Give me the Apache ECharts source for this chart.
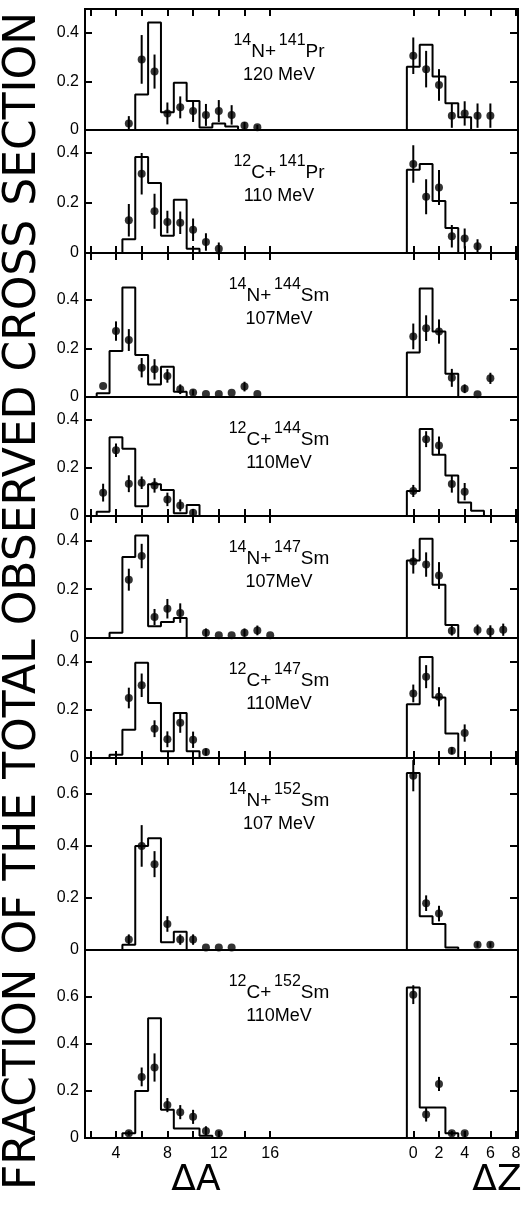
<!DOCTYPE html>
<html><head><meta charset="utf-8">
<script src="https://cdn.jsdelivr.net/npm/echarts@6/dist/echarts.min.js"></script>
<style>html,body{margin:0;padding:0;background:#fff}#c{width:522px;height:1205px}</style>
</head><body><div id="c"></div>
<script>
// ---------- DATA ----------
// histogram bins: [ΔA or ΔZ, fraction]; points: [ΔA or ΔZ, fraction, error]
const histA_N14_Pr141 = [[6,0.146],[7,0.442],[8,0.073],[9,0.194],[10,0.119],[11,0.010],[12,0.027],[13,0.014]];
const ptsA_N14_Pr141  = [[5,0.027,0.03],[6,0.29,0.1],[7,0.24,0.07],[8,0.068,0.045],[9,0.093,0.045],[10,0.078,0.045],[11,0.062,0.045],[12,0.078,0.045],[13,0.062,0.04],[14,0.018,0.015],[15,0.011,0.01]];
const histZ_N14_Pr141 = [[0,0.26],[1,0.35],[2,0.22],[3,0.11],[4,0.052]];
const ptsZ_N14_Pr141  = [[0,0.305,0.075],[1,0.25,0.075],[2,0.185,0.065],[3,0.059,0.05],[4,0.068,0.05],[5,0.059,0.05],[6,0.059,0.05]];

const histA_C12_Pr141 = [[5,0.055],[6,0.384],[7,0.28],[8,0.069],[9,0.213],[10,0.017]];
const ptsA_C12_Pr141  = [[5,0.131,0.065],[6,0.317,0.083],[7,0.167,0.07],[8,0.124,0.045],[9,0.121,0.045],[10,0.093,0.045],[11,0.044,0.035],[12,0.017,0.025]];
const histZ_C12_Pr141 = [[0,0.333],[1,0.356],[2,0.208],[3,0.1]];
const ptsZ_C12_Pr141  = [[0,0.356,0.075],[1,0.225,0.07],[2,0.262,0.07],[3,0.067,0.045],[4,0.058,0.04],[5,0.027,0.028]];

const histA_N14_Sm144 = [[3,0.015],[4,0.19],[5,0.452],[6,0.173],[7,0.052],[8,0.125],[9,0.022]];
const ptsA_N14_Sm144  = [[3,0.045,0],[4,0.272,0.04],[5,0.235,0.045],[6,0.121,0.04],[7,0.114,0.042],[8,0.087,0.028],[9,0.032,0.02],[10,0.019,0.012],[11,0.012,0],[12,0.012,0],[13,0.018,0],[14,0.043,0.02],[15,0.012,0]];
const histZ_N14_Sm144 = [[0,0.184],[1,0.448],[2,0.27],[3,0.096]];
const ptsZ_N14_Sm144  = [[0,0.25,0.053],[1,0.284,0.053],[2,0.27,0.05],[3,0.079,0.037],[4,0.034,0.018],[5,0.011,0],[6,0.077,0.023]];

const histA_C12_Sm144 = [[3,0.018],[4,0.327],[5,0.279],[6,0.04],[7,0.132],[8,0.108],[9,0.011],[10,0.046]];
const ptsA_C12_Sm144  = [[3,0.097,0.037],[4,0.273,0.028],[5,0.134,0.035],[6,0.138,0.026],[7,0.127,0.03],[8,0.069,0.028],[9,0.044,0.025],[10,0.014,0.01]];
const histZ_C12_Sm144 = [[0,0.104],[1,0.361],[2,0.254],[3,0.168],[4,0.056],[5,0.022]];
const ptsZ_C12_Sm144  = [[0,0.104,0.025],[1,0.319,0.033],[2,0.293,0.037],[3,0.133,0.036],[4,0.101,0.036]];

const histA_N14_Sm147 = [[4,0.022],[5,0.332],[6,0.42],[7,0.048],[8,0.066],[9,0.082]];
const ptsA_N14_Sm147  = [[5,0.239,0.045],[6,0.336,0.05],[7,0.086,0.033],[8,0.12,0.04],[9,0.102,0.04],[11,0.022,0.017],[12,0.011,0],[13,0.011,0],[14,0.022,0.017],[15,0.031,0.02],[16,0.011,0]];
const histZ_N14_Sm147 = [[0,0.318],[1,0.407],[2,0.218],[3,0.053]];
const ptsZ_N14_Sm147  = [[0,0.314,0.05],[1,0.301,0.05],[2,0.256,0.055],[3,0.03,0.02],[5,0.033,0.022],[6,0.027,0.025],[7,0.034,0.025]];

const histA_C12_Sm147 = [[4,0.014],[5,0.118],[6,0.397],[7,0.229],[8,0.028],[9,0.188],[10,0.028]];
const ptsA_C12_Sm147  = [[5,0.25,0.043],[6,0.303,0.049],[7,0.122,0.035],[8,0.078,0.033],[9,0.147,0.042],[10,0.076,0.034],[11,0.025,0.015]];
const histZ_C12_Sm147 = [[0,0.224],[1,0.421],[2,0.252],[3,0.102]];
const ptsZ_C12_Sm147  = [[0,0.269,0.037],[1,0.339,0.048],[2,0.255,0.04],[3,0.03,0.015],[4,0.104,0.036]];

const histA_N14_Sm152 = [[5,0.02],[6,0.40],[7,0.43],[8,0.03],[9,0.07]];
const ptsA_N14_Sm152  = [[5,0.04,0.02],[6,0.40,0.08],[7,0.33,0.05],[8,0.10,0.03],[9,0.04,0.02],[10,0.04,0.02],[11,0.01,0],[12,0.01,0],[13,0.01,0]];
const histZ_N14_Sm152 = [[0,0.68],[1,0.13],[2,0.10],[3,0.01]];
const ptsZ_N14_Sm152  = [[0,0.67,0.06],[1,0.18,0.03],[2,0.14,0.03],[5,0.02,0.01],[6,0.02,0.01]];

const histA_C12_Sm152 = [[5,0.02],[6,0.20],[7,0.51],[8,0.12],[9,0.04],[10,0.04],[11,0.01]];
const ptsA_C12_Sm152  = [[5,0.02,0.01],[6,0.26,0.04],[7,0.30,0.06],[8,0.14,0.03],[9,0.11,0.03],[10,0.09,0.03],[11,0.03,0.02],[12,0.02,0.01]];
const histZ_C12_Sm152 = [[0,0.64],[1,0.13],[2,0.13],[3,0.02]];
const ptsZ_C12_Sm152  = [[0,0.61,0.04],[1,0.10,0.03],[2,0.23,0.03],[3,0.02,0.01],[4,0.02,0.01]];

const projMass = ['14','12','14','12','14','12','14','12'];
const projSym  = ['N','C','N','C','N','C','N','C'];
const targMass = ['141','141','144','144','147','147','152','152'];
const targSym  = ['Pr','Pr','Sm','Sm','Sm','Sm','Sm','Sm'];
const energies = ['120 MeV','110 MeV','107MeV','110MeV','107MeV','110MeV','107 MeV','110MeV'];

const dATicks = [2,4,6,8,10,12,14,16];
const dALabels = [4,8,12,16];
const dZTicks = [0,2,4,6,8];
const yTicksSmall = [0.2,0.4];
const yTicksLarge = [0.2,0.4,0.6];

const yTitle = 'FRACTION OF THE TOTAL OBSERVED CROSS SECTION';

// ---------- LAYOUT ----------
const hists = [
  [histA_N14_Pr141, ptsA_N14_Pr141, histZ_N14_Pr141, ptsZ_N14_Pr141],
  [histA_C12_Pr141, ptsA_C12_Pr141, histZ_C12_Pr141, ptsZ_C12_Pr141],
  [histA_N14_Sm144, ptsA_N14_Sm144, histZ_N14_Sm144, ptsZ_N14_Sm144],
  [histA_C12_Sm144, ptsA_C12_Sm144, histZ_C12_Sm144, ptsZ_C12_Sm144],
  [histA_N14_Sm147, ptsA_N14_Sm147, histZ_N14_Sm147, ptsZ_N14_Sm147],
  [histA_C12_Sm147, ptsA_C12_Sm147, histZ_C12_Sm147, ptsZ_C12_Sm147],
  [histA_N14_Sm152, ptsA_N14_Sm152, histZ_N14_Sm152, ptsZ_N14_Sm152],
  [histA_C12_Sm152, ptsA_C12_Sm152, histZ_C12_Sm152, ptsZ_C12_Sm152]
];
const tops  = [9,130,253,397,516,638,758,950];
const zeros = [130,253,397,516,638,758,950,1138];
const ymaxs = [0.497,0.492,0.594,0.494,0.5,0.5,0.738,0.8];
const FRAME_L = 85, FRAME_R = 4;
const dAmin = 1.59, dAmax = 35.28, dZmin = -25.55, dZmax = 8.15;
const FONT = 'Liberation Sans';

function stepLine(bins){
  const out = [[bins[0][0]-0.5,0]];
  bins.forEach(b => { out.push([b[0]-0.5,b[1]]); out.push([b[0]+0.5,b[1]]); });
  out.push([bins[bins.length-1][0]+0.5,0]);
  return out;
}
function errRender(params, api){
  const x = api.value(0), y = api.value(1), e = api.value(2);
  const a = api.coord([x, y-e]), b = api.coord([x, y+e]);
  return {type:'line', shape:{x1:a[0],y1:a[1],x2:b[0],y2:b[1]}, style:{stroke:'#000', lineWidth:2}};
}

const grid=[], xAxis=[], yAxis=[], series=[], graphic=[];
const last = tops.length-1;
tops.forEach((top,i)=>{
  const h = zeros[i]-top;
  grid.push({left:FRAME_L, right:FRAME_R, top:top, height:h, show:true, borderColor:'#000', borderWidth:2,
    outerBoundsMode:'none', containLabel:false});
  const even = (i%2===1);
  const bottomTicks = even;
  const topTicks = !even;
  const mkX = (min,max,ticks,labels,pos,showTicks,showLabels)=>({
    gridIndex:i, type:'value', min:min, max:max, position:pos,
    axisLine:{show:false, onZero:false}, splitLine:{show:false},
    axisTick:{show:showTicks, inside:true, length:7, customValues:ticks, lineStyle:{color:'#000',width:2}},
    axisLabel:{show:showLabels, customValues:labels, color:'#000', fontFamily:FONT, fontSize:16, margin:8}
  });
  const base = xAxis.length;
  xAxis.push(mkX(dAmin,dAmax,dATicks,dALabels,'bottom',bottomTicks,i===last));
  xAxis.push(mkX(dZmin,dZmax,dZTicks,dZTicks,'bottom',bottomTicks,i===last));
  xAxis.push(mkX(dAmin,dAmax,dATicks,dALabels,'top',topTicks,false));
  xAxis.push(mkX(dZmin,dZmax,dZTicks,dZTicks,'top',topTicks,false));
  const yt = ymaxs[i] > 0.65 ? yTicksLarge : yTicksSmall;
  const ybase = yAxis.length;
  yAxis.push({gridIndex:i, type:'value', min:0, max:ymaxs[i], position:'left',
    axisLine:{show:false, onZero:false}, splitLine:{show:false},
    axisTick:{show:true, inside:true, length:7, customValues:yt, lineStyle:{color:'#000',width:2}},
    axisLabel:{show:true, customValues:[0].concat(yt), color:'#000', fontFamily:FONT, fontSize:16, margin:6,
      formatter:v=> v===0 ? '0' : String(v)}});
  yAxis.push({gridIndex:i, type:'value', min:0, max:ymaxs[i], position:'right',
    axisLine:{show:false, onZero:false}, splitLine:{show:false},
    axisTick:{show:true, inside:true, length:8, customValues:yt, lineStyle:{color:'#000',width:2}},
    axisLabel:{show:false}});
  const [hA,pA,hZ,pZ] = hists[i];
  const lineS = (data,xi)=>({type:'line', xAxisIndex:xi, yAxisIndex:ybase, data:data, symbol:'none',
    lineStyle:{color:'#000',width:2}, animation:false, z:2});
  const errS = (data,xi)=>({type:'custom', xAxisIndex:xi, yAxisIndex:ybase, data:data, renderItem:errRender,
    encode:{x:0,y:1}, z:3, animation:false});
  const ptS = (data,xi)=>({type:'scatter', xAxisIndex:xi, yAxisIndex:ybase, data:data.map(d=>[d[0],d[1]]),
    symbol:'circle', symbolSize:8, itemStyle:{color:'#000'}, z:4, animation:false});
  series.push(lineS(stepLine(hA),base), errS(pA,base), ptS(pA,base));
  series.push(lineS(stepLine(hZ),base+1), errS(pZ,base+1), ptS(pZ,base+1));

  // panel title
  graphic.push({type:'text', x:279, y:top+38, style:{
    text:'{s|'+projMass[i]+'}{b|'+projSym[i]+'+}{g| }{s|'+targMass[i]+'}{b|'+targSym[i]+'}',
    align:'center', verticalAlign:'middle', fill:'#000',
    rich:{ s:{fontSize:16, fontFamily:FONT, verticalAlign:'top', fill:'#000'},
           b:{fontSize:19, fontFamily:FONT, verticalAlign:'bottom', padding:[9,0,0,0], fill:'#000'},
           g:{fontSize:10, fontFamily:FONT} }}});
  graphic.push({type:'text', x:279, y:top+66, style:{text:energies[i], align:'center', verticalAlign:'middle',
    fontSize:18, fontFamily:FONT, fill:'#000'}});
});

graphic.push({type:'text', x:24, y:601, rotation:Math.PI/2, style:{text:yTitle, align:'center', verticalAlign:'middle',
  fontSize:44, fontFamily:'DejaVu Sans', fill:'#000'}});
graphic.push({type:'text', x:196, y:1181, style:{text:'ΔA', align:'center', verticalAlign:'middle',
  fontSize:36, fontFamily:'DejaVu Sans', fill:'#000'}});
graphic.push({type:'text', x:497, y:1181, style:{text:'ΔZ', align:'center', verticalAlign:'middle',
  fontSize:36, fontFamily:'DejaVu Sans', fill:'#000'}});

const chart = echarts.init(document.getElementById('c'), null, {renderer:'canvas'});
chart.setOption({animation:false, backgroundColor:'#fff', grid, xAxis, yAxis, series, graphic});
</script></body></html>
